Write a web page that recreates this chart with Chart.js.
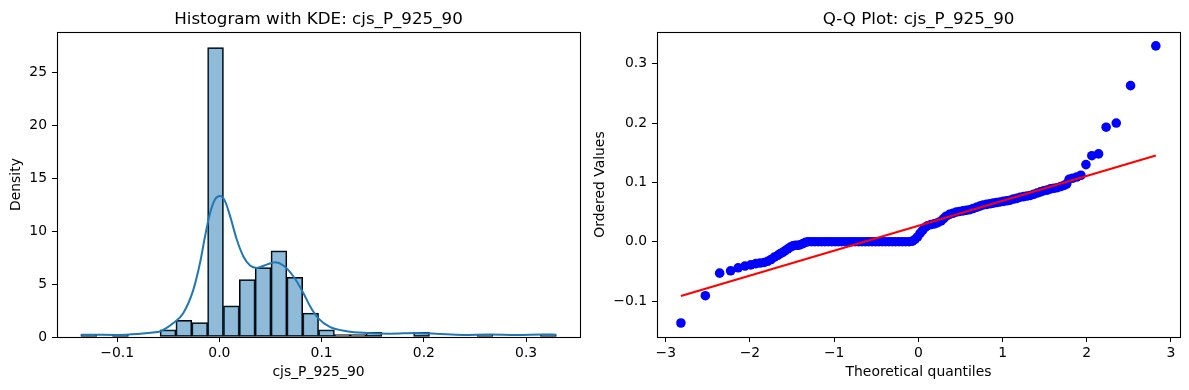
<!DOCTYPE html>
<html>
<head>
<meta charset="utf-8">
<script src="https://cdn.jsdelivr.net/npm/chart.js@4/dist/chart.umd.min.js"></script>
<style>
  body { margin: 0; background: #fff; }
  #wrap { position: relative; width: 1189px; height: 390px; }
  canvas { position: absolute; top: 0; }
  #histChart { left: 0; }
  #qqChart { left: 585px; }
</style>
</head>
<body>
<div id="wrap">
  <canvas id="histChart" width="585" height="390"></canvas>
  <canvas id="qqChart" width="604" height="390"></canvas>
</div>
<script>
// histogram bins (density), 30 bins
const binStart = -0.1355;
const binWidth = 0.0155;
const binDensity = [0.23, 0, 0.23, 0, 0, 0.68, 1.58, 1.35, 27.3, 2.93,
  5.41, 6.54, 8.12, 5.64, 2.26, 0.68, 0.23, 0.23, 0.45, 0,
  0, 0.45, 0, 0, 0, 0.23, 0, 0, 0, 0.23];

// KDE curve
const kdeX = [-0.1355, -0.12, -0.10, -0.08, -0.065, -0.058, -0.045, -0.0352, -0.0254, -0.0189,
  -0.014, -0.0091, -0.0042, 0.0007, 0.0056, 0.0105, 0.017, 0.0235, 0.030, 0.0366,
  0.0463, 0.0544, 0.0626, 0.0723, 0.0821, 0.0887, 0.0968, 0.108, 0.1245, 0.144,
  0.1669, 0.193, 0.2157, 0.2385, 0.2646, 0.2907, 0.3167, 0.3294];
const kdeY = [0.22, 0.21, 0.2, 0.28, 0.42, 0.53, 1.32, 2.27, 4.47, 7.0,
  9.5, 11.7, 13.0, 13.3, 12.8, 11.4, 9.2, 7.6, 6.74, 6.52,
  6.83, 7.05, 6.74, 5.73, 4.16, 2.9, 1.75, 0.95, 0.55, 0.38,
  0.31, 0.38, 0.28, 0.2, 0.24, 0.2, 0.24, 0.22];

// Q-Q points (theoretical quantile, ordered value)
const qqX = [-2.82, -2.53, -2.36, -2.23, -2.14, -2.06, -1.99, -1.93, -1.88, -1.83,
  -1.79, -1.75, -1.71, -1.67, -1.64, -1.61, -1.58, -1.55, -1.52, -1.49,
  -1.46, -1.43, -1.40, -1.37, -1.34, -1.31,
  -1.27, -1.23, -1.19, -1.15, -1.11, -1.07, -1.03, -0.99, -0.95, -0.91,
  -0.87, -0.83, -0.79, -0.75, -0.71, -0.67, -0.63, -0.59, -0.55, -0.51,
  -0.47, -0.43, -0.39, -0.35, -0.31, -0.27, -0.23, -0.19, -0.15, -0.11,
  -0.07, -0.04, -0.01, 0.02, 0.05, 0.08, 0.11, 0.15, 0.19, 0.23,
  0.27, 0.30, 0.33, 0.37, 0.41, 0.45, 0.49, 0.53, 0.57, 0.61,
  0.65, 0.69, 0.73, 0.77, 0.81, 0.85, 0.89, 0.93, 0.97, 1.01,
  1.05, 1.09, 1.13, 1.17, 1.21, 1.25, 1.29, 1.33, 1.37, 1.41,
  1.45, 1.49, 1.53, 1.57, 1.61, 1.65, 1.69, 1.73, 1.76, 1.79,
  1.83, 1.88, 1.93, 1.99, 2.06, 2.14, 2.23, 2.35, 2.52, 2.82];
const qqY = [-0.137, -0.091, -0.053, -0.049, -0.044, -0.041, -0.039, -0.037, -0.036, -0.035,
  -0.033, -0.030, -0.026, -0.023, -0.020, -0.018, -0.015, -0.012, -0.009, -0.007,
  -0.006, -0.006, -0.005, -0.003, -0.001, 0.0,
  0, 0, 0, 0, 0, 0, 0, 0, 0, 0,
  0, 0, 0, 0, 0, 0, 0, 0, 0, 0,
  0, 0, 0, 0, 0, 0, 0, 0, 0, 0,
  0.001, 0.004, 0.008, 0.014, 0.019, 0.024, 0.027, 0.029, 0.030, 0.032,
  0.035, 0.039, 0.043, 0.046, 0.048, 0.050, 0.051, 0.052, 0.053, 0.054,
  0.056, 0.058, 0.060, 0.062, 0.063, 0.064, 0.065, 0.066, 0.067, 0.068,
  0.069, 0.070, 0.072, 0.073, 0.075, 0.076, 0.077, 0.078, 0.080, 0.082,
  0.084, 0.086, 0.087, 0.089, 0.090, 0.091, 0.093, 0.095, 0.097, 0.105,
  0.107, 0.109, 0.112, 0.130, 0.145, 0.148, 0.193, 0.200, 0.263, 0.330];

// least squares line end points
const fitX = [-2.82, 2.82];
const fitY = [-0.0916, 0.1452];

const histXTicks = [-0.1, 0.0, 0.1, 0.2, 0.3];
const histYTicks = [0, 5, 10, 15, 20, 25];
const qqXTicks = [-3, -2, -1, 0, 1, 2, 3];
const qqYTicks = [-0.1, 0.0, 0.1, 0.2, 0.3];

const FONT = "'DejaVu Sans', sans-serif";
Chart.defaults.font.family = FONT;
Chart.defaults.color = "#000";

function fmt(v, d) {
  return (v < 0 ? "\u2212" : "") + Math.abs(v).toFixed(d);
}

// full box around the plot area, like matplotlib spines
const frame = {
  id: "frame",
  afterDraw(chart) {
    const { ctx, chartArea: a } = chart;
    ctx.save();
    ctx.strokeStyle = "#000";
    ctx.lineWidth = 1.1;
    ctx.strokeRect(Math.round(a.left) + 0.5, Math.round(a.top) + 0.5,
      Math.round(a.right - a.left), Math.round(a.bottom - a.top));
    ctx.restore();
  },
};

function axis(opts) {
  return {
    type: "linear",
    min: opts.min,
    max: opts.max,
    offset: false,
    border: { display: false },
    grid: { display: true, drawOnChartArea: false, drawTicks: true, tickLength: 5, color: "#000", offset: false },
    ticks: {
      font: { size: 13.9 },
      color: "#000",
      padding: opts.pad,
      maxRotation: 0,
      autoSkip: false,
      callback: opts.fmt,
    },
    title: {
      display: true,
      text: opts.title,
      font: { size: 13.9 },
      color: "#000",
      padding: opts.titlePad,
    },
    afterBuildTicks: (s) => { s.ticks = opts.ticks.map((v) => ({ value: v })); },
    afterFit: opts.fit,
  };
}

function title(text) {
  return {
    display: true,
    text: text,
    fullSize: false,
    color: "#000",
    font: { size: 16.7, weight: "normal" },
    padding: { top: 10, bottom: 2 },
  };
}

const binCenters = binDensity.map((_, i) => binStart + binWidth * (i + 0.5));

new Chart(document.getElementById("histChart"), {
  type: "bar",
  data: {
    datasets: [
      {
        type: "line",
        data: kdeX.map((x, i) => ({ x: x, y: kdeY[i] })),
        borderColor: "#1f77b4",
        borderWidth: 2,
        pointRadius: 0,
        cubicInterpolationMode: "monotone",
        order: 0,
      },
      {
        type: "bar",
        data: binCenters.map((x, i) => ({ x: x, y: binDensity[i] })),
        backgroundColor: "rgba(31,119,180,0.5)",
        borderColor: "#000",
        borderWidth: 1.1,
        borderSkipped: false,
        barPercentage: 1,
        categoryPercentage: 1,
        order: 1,
      },
    ],
  },
  options: {
    responsive: false,
    animation: false,
    events: [],
    layout: { padding: { left: 0, right: 5, top: 0, bottom: 0 } },
    plugins: {
      legend: { display: false },
      tooltip: { enabled: false },
      title: title("Histogram with KDE: cjs_P_925_90"),
    },
    scales: {
      x: axis({
        min: -0.1588, max: 0.3527, ticks: histXTicks, pad: 3,
        fmt: (v) => fmt(v, 1), title: "cjs_P_925_90",
        titlePad: { top: 0, bottom: 9 },
        fit: (s) => { s.height = 53; },
      }),
      y: axis({
        min: 0, max: 28.77, ticks: histYTicks, pad: 5,
        fmt: (v) => String(v), title: "Density",
        titlePad: { top: 8, bottom: 0 },
        fit: (s) => { s.width = 57; },
      }),
    },
  },
  plugins: [frame],
});

new Chart(document.getElementById("qqChart"), {
  type: "scatter",
  data: {
    datasets: [
      {
        type: "line",
        data: fitX.map((x, i) => ({ x: x, y: fitY[i] })),
        borderColor: "#ff0000",
        borderWidth: 2,
        pointRadius: 0,
        order: 0,
      },
      {
        data: qqX.map((x, i) => ({ x: x, y: qqY[i] })),
        backgroundColor: "#0000ff",
        borderWidth: 0,
        pointRadius: 4.8,
        order: 1,
      },
    ],
  },
  options: {
    responsive: false,
    animation: false,
    events: [],
    layout: { padding: { left: 0, right: 9, top: 0, bottom: 0 } },
    plugins: {
      legend: { display: false },
      tooltip: { enabled: false },
      title: title("Q-Q Plot: cjs_P_925_90"),
    },
    scales: {
      x: axis({
        min: -3.104, max: 3.107, ticks: qqXTicks, pad: 3,
        fmt: (v) => fmt(v, 0), title: "Theoretical quantiles",
        titlePad: { top: 0, bottom: 9 },
        fit: (s) => { s.height = 53; },
      }),
      y: axis({
        min: -0.1606, max: 0.3534, ticks: qqYTicks, pad: 5,
        fmt: (v) => fmt(v, 1), title: "Ordered Values",
        titlePad: { top: 7, bottom: 0 },
        fit: (s) => { s.width = 72; },
      }),
    },
  },
  plugins: [frame],
});
</script>
</body>
</html>
